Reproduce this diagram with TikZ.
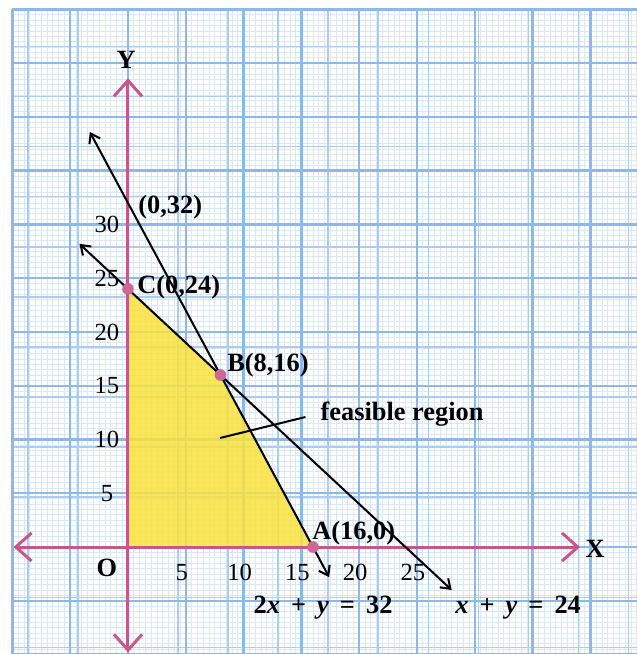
\documentclass[tikz,border=0pt]{standalone}
\usepackage{fontspec}
\setmainfont{Liberation Serif}
\usepackage{xcolor}
\usetikzlibrary{positioning, arrows.meta}

\definecolor{gridblue}{RGB}{172,204,240}
\definecolor{gridbluedark}{RGB}{140,185,235}
\definecolor{axispink}{RGB}{200,86,138}
\definecolor{regionyellow}{RGB}{250,226,62}
\newcommand{\eqgap}{\hspace{0.42em}}

\begin{document}
\begin{tikzpicture}[
    % Skala sumbu (satuan grafik)
    x=0.2312cm, y=0.215cm,
    % Gaya kertas grafik
    grid_fine/.style={draw=gridblue!45, line width=0.4pt},
    grid_minor/.style={draw=gridblue, line width=0.6pt},
    grid_major/.style={draw=gridbluedark, line width=1.4pt},
    % Gaya sumbu koordinat
    axis_line/.style={
        draw=axispink,
        line width=1.7pt,
        >={Straight Barb[length=9pt, width=16pt]},
        <->
    },
    % Gaya garis kendala
    constraint_line/.style={
        draw=black,
        line width=1.15pt,
        >={Straight Barb[length=5pt, width=7pt]},
        <->
    },
    corner_dot/.style={fill=axispink!90!white},
    bold_label/.style={font=\bfseries\fontsize{15}{17}\selectfont, inner sep=1pt},
    tick_label/.style={font=\fontsize{14}{16}\selectfont, inner sep=0pt}
]

% =====================================================================
% LATAR & KERTAS GRAFIK
% =====================================================================
\fill[white] (-11.07,-9.95) rectangle (43.94,50.88);
\useasboundingbox (-11.07,-9.95) rectangle (43.94,50.88);
\draw[grid_fine, step=0.5] (-10,-10) grid (44,50);
\draw[grid_minor] (-10,-10) grid (44,50);
\draw[grid_major, step=5] (-10,-10) grid (44,50);

% =====================================================================
% TITIK-TITIK
% =====================================================================
\coordinate (O) at (0,0);
\coordinate (A) at (16,0);
\coordinate (B) at (8,16);
\coordinate (C) at (0,24);
\coordinate (x_kiri) at (-9.9,0);
\coordinate (x_kanan) at (39.1,0);
\coordinate (y_bawah) at (0,-9.8);
\coordinate (y_atas) at (0,43.6);
\coordinate (L1_atas) at (-3.3,38.6);
\coordinate (L1_bawah) at (17.4,-2.8);
\coordinate (L2_atas) at (-4.2,28.2);
\coordinate (L2_bawah) at (28,-4);
\coordinate (P1) at (7.96,10.14);

% =====================================================================
% DAERAH LAYAK, SUMBU & GARIS
% =====================================================================
\fill[regionyellow, opacity=0.85] (O) -- (A) -- (B) -- (C) -- cycle;

\draw[axis_line] (x_kiri) -- (x_kanan);
\draw[axis_line] (y_bawah) -- (y_atas);

\draw[constraint_line] (L1_atas) -- (L1_bawah);
\draw[constraint_line] (L2_atas) -- (L2_bawah);

\fill[corner_dot] (A) circle[radius=3.3pt];
\fill[corner_dot] (B) circle[radius=3.3pt];
\fill[corner_dot] (C) circle[radius=3.3pt];

% =====================================================================
% LABEL
% =====================================================================
\node[bold_label] (lbl_Y) at (-0.17,45.3) {Y};
\node[bold_label] (lbl_X) at (40.4,-0.19) {X};
\node[bold_label] (lbl_O) at (-1.82,-1.95) {O};

\foreach \v in {5,10,...,25}
    \node[tick_label] (tx\v) at (\v-0.35,-2.33) {\v};
\foreach \v in {5,10,...,30}
    \node[tick_label] (ty\v) at (-1.82,\v) {\v};

\node[bold_label, anchor=west] (lbl_P) at (0.72,31.63) {(0,32)};
\node[bold_label, anchor=west] (lbl_C) at (0.63,24.19) {C(0,24)};
\node[bold_label, anchor=west] (lbl_B) at (8.41,16.93) {B(8,16)};
\node[bold_label, anchor=west] (lbl_A) at (15.77,1.3) {A(16,0)};
\node[bold_label] (lbl_fr) at (23.7,12.37) {feasible region};

\draw[line width=1.15pt] (P1) -- ([xshift=-7.4pt, yshift=-1.7pt]lbl_fr.west);

\node[bold_label] (eq1) at (16.87,-5.67) {2\textit{x}\eqgap+\eqgap\textit{y}\eqgap=\eqgap32};
\node[bold_label] (eq2) at (33.74,-5.67) {\textit{x}\eqgap+\eqgap\textit{y}\eqgap=\eqgap24};

\end{tikzpicture}
\end{document}
